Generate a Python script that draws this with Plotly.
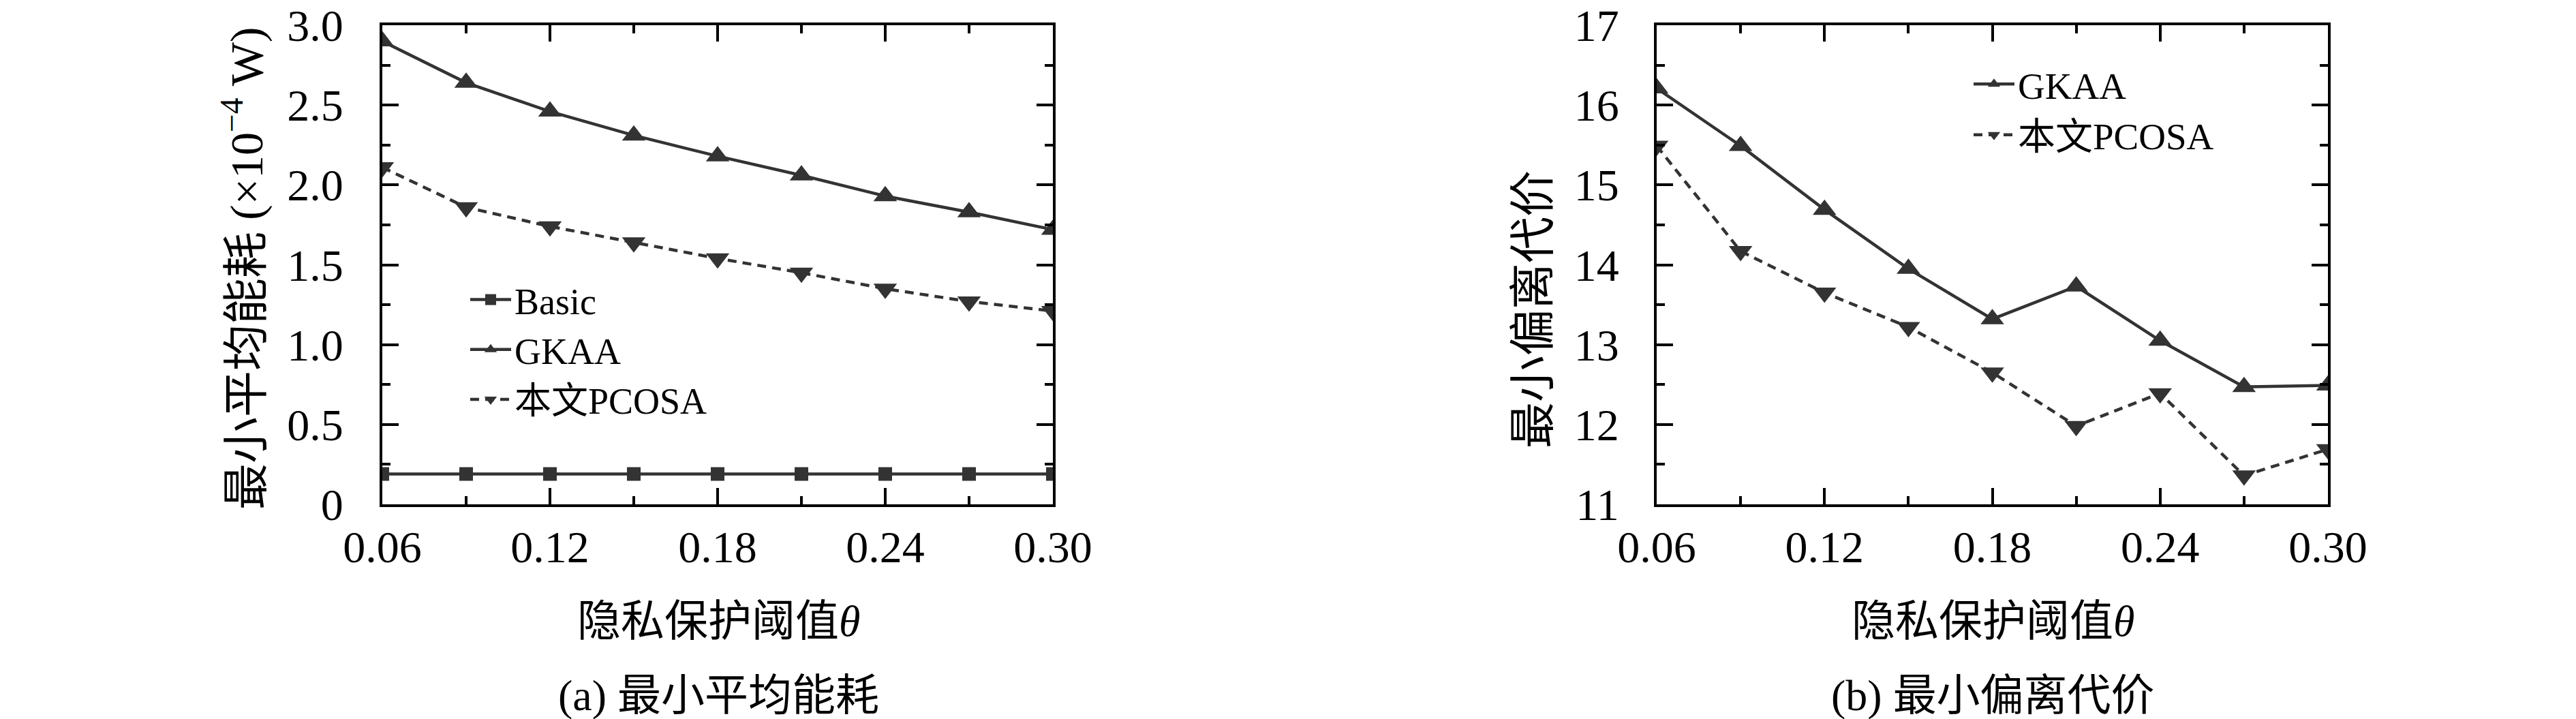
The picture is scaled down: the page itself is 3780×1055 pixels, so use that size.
import plotly.graph_objects as go

W, H = 3780, 1055

theta = [0.06, 0.09, 0.12, 0.15, 0.18, 0.21, 0.24, 0.27, 0.30]

# (a) minimum average energy consumption (x1e-4 W)
energy_basic = [0.19, 0.19, 0.19, 0.19, 0.19, 0.19, 0.19, 0.19, 0.19]
energy_gkaa = [2.90, 2.64, 2.46, 2.31, 2.18, 2.06, 1.93, 1.83, 1.72]
energy_pcosa = [2.11, 1.86, 1.74, 1.64, 1.54, 1.45, 1.35, 1.27, 1.21]

# (b) minimum deviation cost
cost_gkaa = [16.21, 15.49, 14.69, 13.95, 13.32, 13.73, 13.05, 12.47, 12.49]
cost_pcosa = [15.49, 14.17, 13.65, 13.22, 12.65, 11.98, 12.39, 11.36, 11.69]

x_tickvals = [0.06, 0.12, 0.18, 0.24, 0.30]
x_ticktext = ["0.06", "0.12", "0.18", "0.24", "0.30"]
ya_tickvals = [0, 0.5, 1.0, 1.5, 2.0, 2.5, 3.0]
ya_ticktext = ["0", "0.5", "1.0", "1.5", "2.0", "2.5", "3.0"]
yb_tickvals = [11, 12, 13, 14, 15, 16, 17]
yb_ticktext = ["11", "12", "13", "14", "15", "16", "17"]

names_a = ["Basic", "GKAA", "本文PCOSA"]
names_b = ["GKAA", "本文PCOSA"]

FONT = "Liberation Serif, Noto Sans CJK SC, serif"
LC = "#333333"


def px(xp):
    return xp / W


def py(yp):
    return 1 - yp / H


fig = go.Figure()

styles = {
    "Basic": dict(symbol="square", size=20, dash="solid"),
    "GKAA": dict(symbol="triangle-up", size=30, dash="solid"),
    "本文PCOSA": dict(symbol="triangle-down", size=30, dash="13px,9px"),
}

for name, ys in zip(names_a, [energy_basic, energy_gkaa, energy_pcosa]):
    s = styles[name]
    fig.add_trace(go.Scatter(
        x=theta, y=ys, name=name, mode="lines+markers",
        line=dict(color=LC, width=4.5, dash=s["dash"]),
        marker=dict(symbol=s["symbol"], size=s["size"], color=LC),
        xaxis="x", yaxis="y", legend="legend",
    ))

for name, ys in zip(names_b, [cost_gkaa, cost_pcosa]):
    s = styles[name]
    fig.add_trace(go.Scatter(
        x=theta, y=ys, name=name, mode="lines+markers",
        line=dict(color=LC, width=4.5, dash=s["dash"]),
        marker=dict(symbol=s["symbol"], size=s["size"], color=LC),
        xaxis="x2", yaxis="y2", legend="legend2",
    ))

axis_common = dict(
    showline=True, linecolor="black", linewidth=4, mirror="allticks",
    ticks="inside", ticklen=24, tickwidth=4, tickcolor="black",
    showgrid=False, zeroline=False, automargin=False,
    ticklabeloverflow="allow",
    tickfont=dict(family=FONT, size=66, color="black"),
)

ydom = [py(732), py(29)]

fig.update_layout(
    template="none",
    width=W, height=H,
    margin=dict(l=0, r=0, t=0, b=0, pad=0, autoexpand=False),
    paper_bgcolor="white", plot_bgcolor="white",
    font=dict(family=FONT, color="black"),
    xaxis=dict(domain=[px(553), px(1537)], range=[0.06, 0.30],
               tickvals=x_tickvals, ticktext=x_ticktext, anchor="y",
               minor=dict(dtick=0.03, tick0=0.06, ticks="inside", ticklen=12,
                          tickwidth=4, tickcolor="black"),
               ticklabelstandoff=2, **axis_common),
    yaxis=dict(domain=ydom, range=[0, 3.0],
               tickvals=ya_tickvals, ticktext=ya_ticktext, anchor="x",
               minor=dict(dtick=0.25, tick0=0, ticks="inside", ticklen=12,
                          tickwidth=4, tickcolor="black"),
               ticklabelstandoff=40, **axis_common),
    xaxis2=dict(domain=[px(2423), px(3408)], range=[0.06, 0.30],
                tickvals=x_tickvals, ticktext=x_ticktext, anchor="y2",
                minor=dict(dtick=0.03, tick0=0.06, ticks="inside", ticklen=12,
                           tickwidth=4, tickcolor="black"),
                ticklabelstandoff=2, **axis_common),
    yaxis2=dict(domain=ydom, range=[11, 17],
                tickvals=yb_tickvals, ticktext=yb_ticktext, anchor="x2",
                minor=dict(dtick=0.5, tick0=11, ticks="inside", ticklen=12,
                           tickwidth=4, tickcolor="black"),
                ticklabelstandoff=38, **axis_common),
    legend=dict(x=px(677), y=py(390), xanchor="left", yanchor="top",
                bgcolor="white", borderwidth=0,
                font=dict(family=FONT, size=54, color="black"),
                itemwidth=60, tracegroupgap=0),
    legend2=dict(x=px(2883), y=py(73), xanchor="left", yanchor="top",
                 bgcolor="rgba(0,0,0,0)", borderwidth=0,
                 font=dict(family=FONT, size=55, color="black"),
                 itemwidth=60, tracegroupgap=0),
    showlegend=True,
)

ann_font = dict(family=FONT, size=64, color="black")
yt_font = dict(family=FONT, size=68, color="black")
annotations = [
    dict(text="隐私保护阈值<i>θ</i>", x=px(1046), y=py(903), font=ann_font),
    dict(text="(a) 最小平均能耗", x=px(1046), y=py(1012), font=ann_font),
    dict(text="隐私保护阈值<i>θ</i>", x=px(2916), y=py(903), font=ann_font),
    dict(text="(b) 最小偏离代价", x=px(2916), y=py(1012), font=ann_font),
    dict(text="最小平均能耗 (×10<sup>−4</sup> W)", x=px(349), y=py(386),
         textangle=-90, font=yt_font),
    dict(text="最小偏离代价", x=px(2242), y=py(446), textangle=-90, font=yt_font),
]
for a in annotations:
    a.update(xref="paper", yref="paper", xanchor="center", yanchor="middle",
             showarrow=False)
fig.update_layout(annotations=annotations)

fig.write_html("out.html")
